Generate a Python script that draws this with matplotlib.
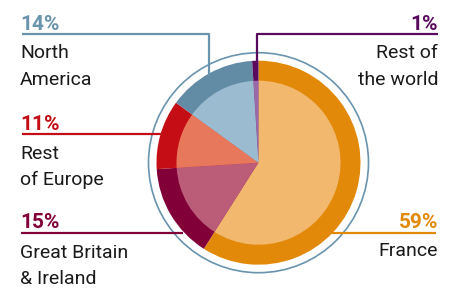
import matplotlib
matplotlib.use("Agg")
import matplotlib.pyplot as plt
import numpy as np

plt.rcParams['font.family'] = ['Roboto', 'DejaVu Sans']

categories = ["France", "Great Britain\n& Ireland", "Rest\nof Europe", "North\nAmerica", "Rest of\nthe world"]
values = [59, 15, 11, 14, 1]
pct_labels = ["59%", "15%", "11%", "14%", "1%"]
outer_colors = ["#E3890A", "#820038", "#C40D14", "#628BA5", "#5A0A5E"]
inner_colors = ["#F2B96E", "#BB5C78", "#E8785C", "#9BBBD0", "#9A6AA8"]

W, H = 455, 288
fig = plt.figure(figsize=(W / 100, H / 100), dpi=100)
ax = fig.add_axes([0, 0, 1, 1])

cx, cy = 258.5, H - 162.7
R_out, R_in, R_ring = 102, 82, 110

ax.pie(values, colors=outer_colors, radius=R_out, center=(cx, cy), startangle=90,
       counterclock=False, wedgeprops=dict(linewidth=0), frame=True)
ax.pie(values, colors=inner_colors, radius=R_in, center=(cx, cy), startangle=90,
       counterclock=False, wedgeprops=dict(linewidth=0), frame=True)
ax.add_patch(plt.Circle((cx, cy), R_ring, fill=False, ec="#6A93AE", lw=1.2))
ax.set_xlim(0, W)
ax.set_ylim(0, H)
ax.set_aspect('equal')
ax.axis('off')

def Y(y):
    return H - y

txt = "#1A1A1A"
fs = 14
pfs = 15
lw = 1.6

# North America (index 3)
ax.plot([22, 208.5, 208.5], [Y(34), Y(34), Y(76)], color="#6A93AE", lw=lw, solid_capstyle='butt')
ax.text(20, Y(30), pct_labels[3], color="#6A93AE", fontsize=pfs, fontweight='bold', ha='left', va='baseline')
ax.text(20, Y(58), "North", color=txt, fontsize=fs, ha='left', va='baseline')
ax.text(20, Y(85), "America", color=txt, fontsize=fs, ha='left', va='baseline')

# Rest of Europe (index 2)
c = outer_colors[2]
ax.plot([22, 161], [Y(133.5), Y(133.5)], color=c, lw=lw, solid_capstyle='butt')
ax.text(20, Y(129.5), pct_labels[2], color=c, fontsize=pfs, fontweight='bold', ha='left', va='baseline')
ax.text(20, Y(159), "Rest", color=txt, fontsize=fs, ha='left', va='baseline')
ax.text(20, Y(185), "of Europe", color=txt, fontsize=fs, ha='left', va='baseline')

# Great Britain & Ireland (index 1)
c = outer_colors[1]
ax.plot([21, 183], [Y(232.5), Y(232.5)], color=c, lw=lw, solid_capstyle='butt')
ax.text(20, Y(228), pct_labels[1], color=c, fontsize=pfs, fontweight='bold', ha='left', va='baseline')
ax.text(20, Y(257.5), "Great Britain", color=txt, fontsize=fs, ha='left', va='baseline')
ax.text(20, Y(283.5), "& Ireland", color=txt, fontsize=fs, ha='left', va='baseline')

# Rest of the world (index 4)
c = outer_colors[4]
ax.plot([438, 256.5, 256.5], [Y(34.3), Y(34.3), Y(62)], color=c, lw=lw, solid_capstyle='butt')
ax.text(438, Y(30.5), pct_labels[4], color=c, fontsize=pfs, fontweight='bold', ha='right', va='baseline')
ax.text(438, Y(58.5), "Rest of", color=txt, fontsize=fs, ha='right', va='baseline')
ax.text(438, Y(85), "the world", color=txt, fontsize=fs, ha='right', va='baseline')

# France (index 0)
c = outer_colors[0]
ax.plot([331, 436], [Y(232.5), Y(232.5)], color=c, lw=lw, solid_capstyle='butt')
ax.text(438, Y(227.5), pct_labels[0], color=c, fontsize=pfs, fontweight='bold', ha='right', va='baseline')
ax.text(438, Y(255.5), "France", color=txt, fontsize=fs, ha='right', va='baseline')

fig.savefig("out.png", dpi=100)
